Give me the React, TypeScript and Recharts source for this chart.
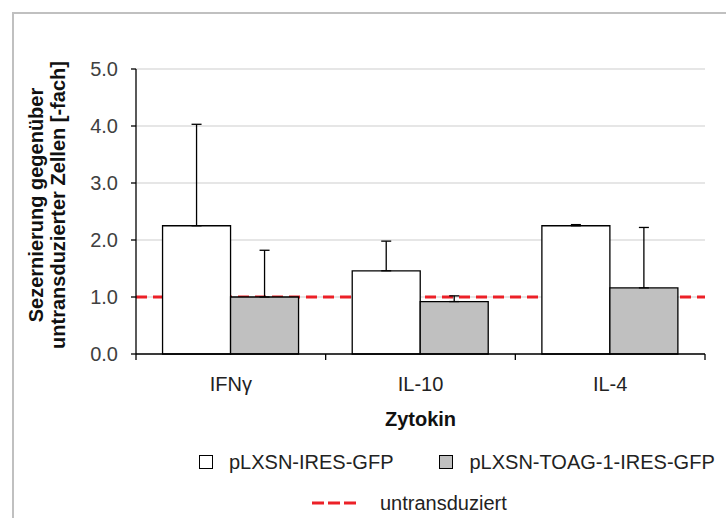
import {
  BarChart,
  Bar,
  XAxis,
  YAxis,
  CartesianGrid,
  ReferenceLine,
  ErrorBar,
} from "recharts";

// Fold secretion relative to untransduced cells, mean + upper SD
const CYTOKINES = ["IFNγ", "IL-10", "IL-4"];
const CONTROL_MEAN = [2.25, 1.46, 2.25]; // pLXSN-IRES-GFP
const CONTROL_SD = [1.78, 0.52, 0.02];
const TOAG_MEAN = [1.0, 0.92, 1.16]; // pLXSN-TOAG-1-IRES-GFP
const TOAG_SD = [0.82, 0.1, 1.06];
const Y_TICKS = [0, 1, 2, 3, 4, 5];
const UNTRANSDUCED = 1.0;

const SERIES = [
  { key: "control", err: "controlErr", label: "pLXSN-IRES-GFP", fill: "#ffffff" },
  { key: "toag", err: "toagErr", label: "pLXSN-TOAG-1-IRES-GFP", fill: "#c0c0c0" },
];

// error bars only go upwards: [below, above]
const data = CYTOKINES.map((name, i) => ({
  name,
  control: CONTROL_MEAN[i],
  controlErr: [0, CONTROL_SD[i]],
  toag: TOAG_MEAN[i],
  toagErr: [0, TOAG_SD[i]],
}));

const FONT = "'Liberation Sans', Arial, sans-serif";
const W = 726;
const H = 518;
const MARGIN = { top: 69, right: 21, bottom: 134, left: 76 };
const Y_AXIS_W = 60;
const BAND = (W - MARGIN.left - MARGIN.right - Y_AXIS_W) / CYTOKINES.length;
const X_TICK_SIZE = 6;
const X_TICK_MARGIN = 24;

// category label plus the tick marks that sit between categories
// eslint-disable-next-line @typescript-eslint/no-explicit-any
function CategoryTick({ x, y, payload, index }: any) {
  const half = BAND / 2;
  const axisY = y - X_TICK_SIZE - X_TICK_MARGIN;
  return (
    <g>
      <line x1={x - half} x2={x - half} y1={axisY} y2={axisY + X_TICK_SIZE} stroke="#000" strokeWidth={1.3} />
      {index === CYTOKINES.length - 1 && (
        <line x1={x + half} x2={x + half} y1={axisY} y2={axisY + X_TICK_SIZE} stroke="#000" strokeWidth={1.3} />
      )}
      <text x={x} y={y} textAnchor="middle" dominantBaseline="central" fontSize={20} fill="#222" fontFamily={FONT}>
        {payload.value}
      </text>
    </g>
  );
}

export default function App() {
  return (
    <div
      style={{
        position: "absolute",
        left: 0,
        top: 0,
        width: W,
        height: H,
        overflow: "hidden",
        background: "#fff",
        fontFamily: FONT,
      }}
    >
      {/* frame */}
      <div
        style={{
          position: "absolute",
          left: 12,
          top: 12,
          width: W,
          height: H,
          borderTop: "2px solid #c0c0c0",
          borderLeft: "2px solid #c0c0c0",
        }}
      />

      <div style={{ position: "absolute", left: 0, top: 0 }}>
        <BarChart
          width={W}
          height={H}
          data={data}
          margin={MARGIN}
          barCategoryGap="14%"
          barGap={0}
        >
          <CartesianGrid vertical={false} stroke="#dedede" strokeWidth={1.3} />
          <ReferenceLine
            y={UNTRANSDUCED}
            stroke="#ec2027"
            strokeWidth={3}
            strokeDasharray="11 6"
            zIndex={250}
          />
          <XAxis
            dataKey="name"
            axisLine={{ stroke: "#000", strokeWidth: 1.3 }}
            tickLine={false}
            tickSize={X_TICK_SIZE}
            tickMargin={X_TICK_MARGIN}
            tick={<CategoryTick />}
            interval={0}
            height={30}
            label={{
              value: "Zytokin",
              position: "bottom",
              offset: 28,
              fontSize: 20,
              fontWeight: "bold",
              fill: "#111",
              fontFamily: FONT,
            }}
          />
          <YAxis
            domain={[0, 5]}
            ticks={Y_TICKS}
            width={Y_AXIS_W}
            tickFormatter={(v: number) => v.toFixed(1)}
            tick={{ fontSize: 20, fill: "#404040", fontFamily: FONT }}
            tickSize={5}
            tickMargin={13}
            tickLine={{ stroke: "#000", strokeWidth: 1.3 }}
            axisLine={{ stroke: "#000", strokeWidth: 1.3 }}
          />
          {SERIES.map((s) => (
            <Bar
              key={s.key}
              dataKey={s.key}
              name={s.label}
              fill={s.fill}
              stroke="#000"
              strokeWidth={1.3}
              isAnimationActive={false}
            >
              <ErrorBar dataKey={s.err} direction="y" width={5} stroke="#000" strokeWidth={1.3} />
            </Bar>
          ))}
        </BarChart>
      </div>

      {/* y axis title, two lines */}
      <svg
        width={80}
        height={H}
        style={{ position: "absolute", left: 0, top: 0, pointerEvents: "none" }}
      >
        <g fontFamily={FONT} fontSize={20} fontWeight="bold" fill="#111" textAnchor="middle">
          <text x={43} y={205} transform="rotate(-90 43 205)">
            Sezernierung gegenüber
          </text>
          <text x={65} y={205} transform="rotate(-90 65 205)">
            untransduzierter Zellen [-fach]
          </text>
        </g>
      </svg>

      {/* legend */}
      <div
        style={{
          position: "absolute",
          left: 199,
          top: 450,
          height: 24,
          display: "flex",
          alignItems: "center",
          fontSize: 20,
          color: "#222",
          whiteSpace: "nowrap",
        }}
      >
        {SERIES.map((s, i) => (
          <div key={s.key} style={{ display: "flex", alignItems: "center", marginLeft: i ? 46 : 0 }}>
            <span
              style={{
                display: "inline-block",
                width: 12,
                height: 12,
                background: s.fill,
                border: "1px solid #000",
                marginRight: 16,
              }}
            />
            <span>{s.label}</span>
          </div>
        ))}
      </div>
      <div
        style={{
          position: "absolute",
          left: 312,
          top: 491,
          height: 24,
          display: "flex",
          alignItems: "center",
          fontSize: 20,
          color: "#222",
          whiteSpace: "nowrap",
        }}
      >
        <svg width={44} height={6} style={{ marginRight: 24 }}>
          <line x1={0} x2={44} y1={3} y2={3} stroke="#ec2027" strokeWidth={3} strokeDasharray="12 4" />
        </svg>
        <span>untransduziert</span>
      </div>
    </div>
  );
}
